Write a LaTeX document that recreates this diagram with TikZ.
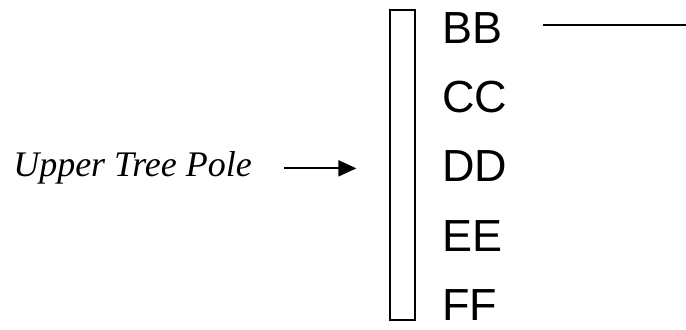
\documentclass[tikz,border=0pt]{standalone}
\usepackage{fontspec}
\setmainfont{Liberation Serif}
\setsansfont{Liberation Sans}
\usetikzlibrary{arrows.meta}

\begin{document}
\begin{tikzpicture}[
    level/.style={anchor=base west,inner sep=0pt,font=\sffamily\fontsize{32}{38}\selectfont},
    pointer/.style={line width=1.4pt}
  ]
  % Picture size
  \useasboundingbox (0,0) rectangle (17.15,8.225);

  % Pole
  \node[draw,line width=0.9pt,minimum width=0.625cm,minimum height=7.75cm,inner sep=0pt] (pole) at (10.0625,4.1) {};

  % Levels
  \node[level] (bb) at (11.05,7.125) {BB};
  \node[level] (cc) at (11.05,5.4) {CC};
  \node[level] (dd) at (11.05,3.675) {DD};
  \node[level] (ee) at (11.05,1.95) {EE};
  \node[level] (ff) at (11.05,0.225) {FF};

  % Label
  \node[anchor=base west,inner sep=0pt,font=\itshape\fontsize{25.6}{30}\selectfont] (upper) at (0.325,3.8) {Upper Tree Pole};

  % Connectors
  \coordinate (bbend) at (17.15,7.6);
  \draw[pointer] ([xshift=1cm]bb.east |- bbend) -- (bbend);
  \draw[pointer,-{Triangle[length=0.45cm,width=0.4cm]}] ([xshift=0.8cm]upper.east) -- ([xshift=-0.825cm]upper.east -| pole.west);
\end{tikzpicture}
\end{document}
